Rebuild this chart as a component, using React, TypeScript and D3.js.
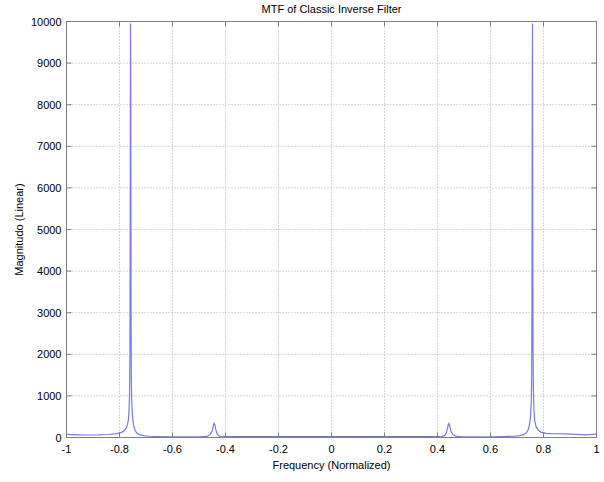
import React, { useEffect, useRef } from 'react';
import * as d3 from 'd3';

const freq = [
  -1.0, -0.96, -0.92, -0.88, -0.84, -0.81, -0.79, -0.78, -0.772, -0.767, -0.764, -0.762,
  -0.7605, -0.7595, -0.7585, -0.7575, -0.7565, -0.7555, -0.754, -0.751, -0.747, -0.742,
  -0.735, -0.725, -0.71, -0.69, -0.65, -0.6, -0.55, -0.5, -0.47, -0.458, -0.45, -0.446,
  -0.443, -0.44, -0.437, -0.433, -0.428, -0.42, -0.41, -0.4, -0.3, -0.2, -0.1, 0.0,
  0.1, 0.2, 0.3, 0.4, 0.41, 0.42, 0.428, 0.433, 0.437, 0.44, 0.443, 0.446, 0.45,
  0.458, 0.47, 0.5, 0.55, 0.6, 0.65, 0.69, 0.71, 0.725, 0.735, 0.742, 0.747, 0.751,
  0.754, 0.7555, 0.7565, 0.7575, 0.7585, 0.7595, 0.7605, 0.762, 0.764, 0.767, 0.772,
  0.78, 0.79, 0.81, 0.84, 0.88, 0.92, 0.96, 1.0,
];
const magnitude = [
  75, 65, 60, 62, 72, 95, 130, 180, 260, 400, 650, 1100,
  2150, 5250, 9950, 8380, 3200, 1500, 900, 500, 300, 180,
  110, 70, 45, 30, 22, 18, 16, 15, 25, 70, 160, 280,
  340, 300, 200, 110, 55, 25, 12, 6, 3, 2, 2, 2,
  2, 2, 3, 6, 12, 25, 55, 110, 200, 300, 340, 280, 160,
  70, 25, 15, 16, 18, 22, 30, 45, 70, 110, 180, 300, 500,
  900, 1500, 3200, 8380, 9950, 5250, 2150, 1100, 650, 400, 260,
  180, 130, 100, 90, 85, 75, 65, 80,
];

const xTicks = [-1, -0.8, -0.6, -0.4, -0.2, 0, 0.2, 0.4, 0.6, 0.8, 1];
const yTicks = [0, 1000, 2000, 3000, 4000, 5000, 6000, 7000, 8000, 9000, 10000];

const title = 'MTF of Classic Inverse Filter';
const xLabel = 'Frequency (Normalized)';
const yLabel = 'Magnitudo (Linear)';

const App = () => {
  const svgRef = useRef<SVGSVGElement>(null);

  useEffect(() => {
    const width = 604;
    const height = 482;
    const left = 66.5;
    const right = 596.5;
    const top = 21.5;
    const bottom = 437.5;
    const font = '"Liberation Sans", Arial, sans-serif';

    const svg = d3.select(svgRef.current)
      .attr('width', width)
      .attr('height', height);
    svg.selectAll('*').remove();

    svg.append('rect').attr('width', width).attr('height', height).attr('fill', '#fff');

    const x = d3.scaleLinear().domain([-1, 1]).range([left, right]);
    const y = d3.scaleLinear().domain([0, 10000]).range([bottom, top]);

    // grid
    const grid = svg.append('g')
      .attr('stroke', '#b0b0b0')
      .attr('stroke-width', 1)
      .attr('stroke-dasharray', '1,2');
    xTicks.slice(1, -1).forEach(t => {
      grid.append('line').attr('x1', x(t)).attr('x2', x(t)).attr('y1', top).attr('y2', bottom);
    });
    yTicks.slice(1, -1).forEach(t => {
      grid.append('line').attr('x1', left).attr('x2', right).attr('y1', y(t)).attr('y2', y(t));
    });

    // curve
    const pts: [number, number][] = freq.map((f, i) => [f, magnitude[i]]);
    const line = d3.line<[number, number]>()
      .x(d => x(d[0]))
      .y(d => Math.min(bottom - 0.5, y(d[1])));

    svg.append('path')
      .attr('d', line(pts))
      .attr('fill', 'none')
      .attr('stroke', '#7878ff')
      .attr('stroke-width', 1.2);

    svg.append('path')
      .attr('d', line(pts.filter(d => Math.abs(d[0]) <= 0.41)))
      .attr('fill', 'none')
      .attr('stroke', '#2a2ab4')
      .attr('stroke-width', 1.2);

    // box
    svg.append('rect')
      .attr('x', left).attr('y', top)
      .attr('width', right - left).attr('height', bottom - top)
      .attr('fill', 'none').attr('stroke', '#808080');

    // ticks
    const ticks = svg.append('g').attr('stroke', '#808080');
    xTicks.forEach(t => {
      ticks.append('line').attr('x1', x(t)).attr('x2', x(t)).attr('y1', bottom).attr('y2', bottom - 5);
      ticks.append('line').attr('x1', x(t)).attr('x2', x(t)).attr('y1', top).attr('y2', top + 5);
    });
    yTicks.forEach(t => {
      ticks.append('line').attr('x1', left).attr('x2', left + 5).attr('y1', y(t)).attr('y2', y(t));
      ticks.append('line').attr('x1', right).attr('x2', right - 5).attr('y1', y(t)).attr('y2', y(t));
    });

    // tick labels
    xTicks.forEach(t => {
      svg.append('text')
        .attr('x', x(t)).attr('y', bottom + 15)
        .attr('text-anchor', 'middle')
        .attr('font-family', font).attr('font-size', 11)
        .text(String(t).replace('-', '-'));
    });
    yTicks.forEach(t => {
      svg.append('text')
        .attr('x', left - 5).attr('y', y(t) + 4)
        .attr('text-anchor', 'end')
        .attr('font-family', font).attr('font-size', 11)
        .text(String(t));
    });

    svg.append('text')
      .attr('x', (left + right) / 2).attr('y', 13)
      .attr('text-anchor', 'middle')
      .attr('font-family', font).attr('font-size', 11)
      .text(title);

    svg.append('text')
      .attr('x', (left + right) / 2).attr('y', 469)
      .attr('text-anchor', 'middle')
      .attr('font-family', font).attr('font-size', 11)
      .text(xLabel);

    svg.append('text')
      .attr('transform', `translate(23,${(top + bottom) / 2}) rotate(-90)`)
      .attr('text-anchor', 'middle')
      .attr('font-family', font).attr('font-size', 11)
      .text(yLabel);
  }, []);

  return (
    <div style={{ position: 'absolute', left: 0, top: 0 }}>
      <svg ref={svgRef} style={{ display: 'block' }}></svg>
    </div>
  );
};

export default App;
